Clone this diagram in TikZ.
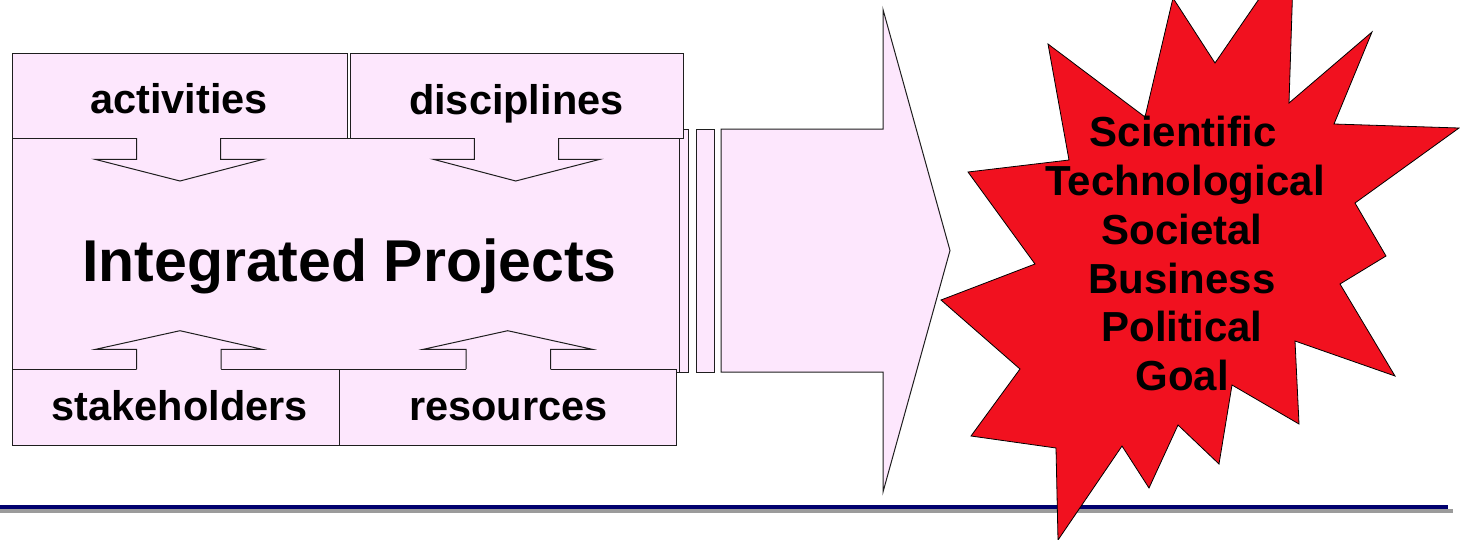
\documentclass[tikz,border=0pt]{standalone}
\usepackage{fontspec}
\setmainfont{Liberation Sans}
\definecolor{pinkfill}{RGB}{253,231,253}
\definecolor{starred}{RGB}{241,17,31}
\definecolor{navyline}{RGB}{0,0,110}
\definecolor{shadowgray}{RGB}{155,155,155}
\definecolor{edgecol}{RGB}{30,30,30}
\begin{document}
\begin{tikzpicture}[x=1pt,y=-1pt,
  pinkbox/.style={draw=edgecol, line width=1pt, fill=pinkfill},
  arrowfill/.style={fill=pinkfill},
  arrowline/.style={draw=edgecol, line width=1pt},
  boxlabel/.style={anchor=base, inner sep=0pt, font=\fontsize{41.5}{48}\selectfont\bfseries},
  titlelabel/.style={anchor=base, inner sep=0pt, font=\fontsize{59}{66}\selectfont\bfseries},
  starlabel/.style={anchor=base, inner sep=0pt, font=\fontsize{42}{48}\selectfont\bfseries},
  starshape/.style={fill=starred, draw=black, line width=0.8pt, line join=miter}
]
\useasboundingbox (0,0) rectangle (1460,539);
\clip (0,0) rectangle (1460,539);

% bottom rule with shadow
\fill[shadowgray] (0,509) rectangle (1453,513);
\fill[navyline] (0,505) rectangle (1448,509);

% strips and big arrow
\draw[pinkbox] (670,129) rectangle (688,372);
\draw[pinkbox] (696,129) rectangle (714,372);
\draw[pinkbox] (721,129) -- (883,129) -- (883,9.5) -- (950,250.5) -- (883,492) -- (883,372) -- (721,372) -- cycle;

% main box
\draw[pinkbox] (12,138) rectangle (679,372);
% top boxes
\draw[pinkbox] (12,53) rectangle (347,138);
\draw[pinkbox] (350,53) rectangle (683,138);
% bottom boxes
\draw[pinkbox] (12,369) rectangle (340,445);
\draw[pinkbox] (339,369) rectangle (676,445);

% small block arrows (down)
\fill[arrowfill] (136.7,136.5) -- (136.7,159.3) -- (95,159.3) -- (180,181) -- (263.3,159.3) -- (220.7,159.3) -- (220.7,136.5) -- cycle;
\draw[arrowline] (136.7,138) -- (136.7,159.3) -- (95,159.3) -- (180,181) -- (263.3,159.3) -- (220.7,159.3) -- (220.7,138);
\fill[arrowfill] (474.3,136.5) -- (474.3,159.3) -- (433.3,159.3) -- (515.7,181) -- (600,159.3) -- (558.7,159.3) -- (558.7,136.5) -- cycle;
\draw[arrowline] (474.3,138) -- (474.3,159.3) -- (433.3,159.3) -- (515.7,181) -- (600,159.3) -- (558.7,159.3) -- (558.7,138);
% small block arrows (up)
\fill[arrowfill] (136.7,370.5) -- (136.7,349.3) -- (95.7,349.3) -- (180,330.7) -- (262.3,349.3) -- (221,349.3) -- (221,370.5) -- cycle;
\draw[arrowline] (136.7,369) -- (136.7,349.3) -- (95.7,349.3) -- (180,330.7) -- (262.3,349.3) -- (221,349.3) -- (221,369);
\fill[arrowfill] (466,370.5) -- (466,349.3) -- (423.3,349.3) -- (507.7,330.7) -- (592.3,349.3) -- (550.7,349.3) -- (550.7,370.5) -- cycle;
\draw[arrowline] (466,369) -- (466,349.3) -- (423.3,349.3) -- (507.7,330.7) -- (592.3,349.3) -- (550.7,349.3) -- (550.7,369);

% labels
\node[boxlabel] (act) at (179.2,113.5) {activities};
\node[boxlabel] (dis) at (516.3,114) {disciplines};
\node[boxlabel] (stk) at (179.7,420.7) {stakeholders};
\node[boxlabel] (res) at (508.3,420.7) {resources};
\node[titlelabel] (ip) at (349.5,281) {Integrated Projects};

% star burst
\draw[starshape] (1048,44) -- (1145,117) -- (1173,-2) -- (1215,63) -- (1294,-52) -- (1289,103)
  -- (1372,32) -- (1334,124) -- (1459,128) -- (1355,203) -- (1386,256) -- (1340,284)
  -- (1395,376) -- (1295,341) -- (1299,424) -- (1232,385) -- (1219,464) -- (1178,425)
  -- (1149,488) -- (1122,446) -- (1058,540) -- (1056,448) -- (971,436) -- (1020,369)
  -- (941,300) -- (1035,264) -- (968,172) -- (1069,160) -- cycle;

\node[starlabel] (g1) at (1183,146.7) {Scientific};
\node[starlabel] (g2) at (1185,195.5) {Technological};
\node[starlabel] (g3) at (1182,244.3) {Societal};
\node[starlabel] (g4) at (1182,293.1) {Business};
\node[starlabel] (g5) at (1182,341.9) {Political};
\node[starlabel] (g6) at (1182,390.7) {Goal};
\end{tikzpicture}
\end{document}
